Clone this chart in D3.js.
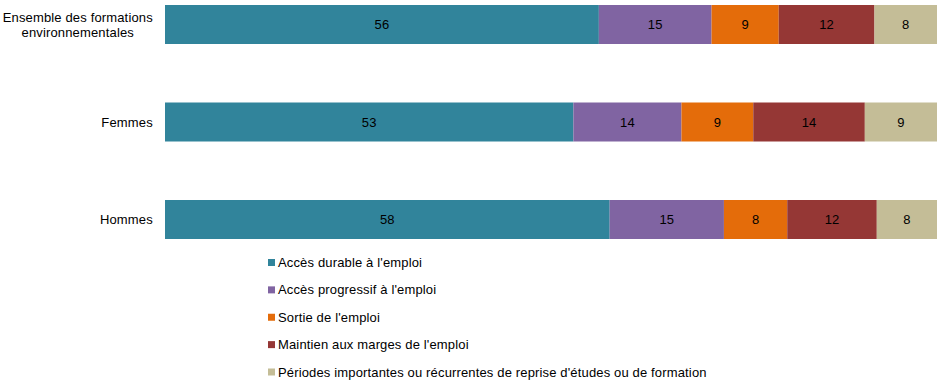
<!DOCTYPE html>
<html>
<head>
<meta charset="utf-8">
<script src="https://cdn.jsdelivr.net/npm/d3@7"></script>
<style>
  body { margin: 0; background: #fff; }
  svg text { font-family: Arial, "Liberation Sans", sans-serif; font-size: 13px; fill: #000; letter-spacing: 0.15px; }
</style>
</head>
<body>
<svg id="chart" width="941" height="382"></svg>
<script>
// categories (top to bottom) and series, values in %
const categories = [["Ensemble des formations", "environnementales"], ["Femmes"], ["Hommes"]];
const seriesNames = [
  "Accès durable à l'emploi",
  "Accès progressif à l'emploi",
  "Sortie de l'emploi",
  "Maintien aux marges de l'emploi",
  "Périodes importantes ou récurrentes de reprise d'études ou de formation"
];
const accesDurable    = [56.2, 52.9, 57.6];
const accesProgressif = [14.6, 14.0, 14.8];
const sortieEmploi    = [8.7, 9.3, 8.2];
const maintienMarges  = [12.4, 14.45, 11.6];
const periodesEtudes  = [8.1, 9.35, 7.8];
const colors = ["#31849B", "#8064A2", "#E46C0A", "#953735", "#C4BD97"];

const svg = d3.select("#chart");
const catKeys = categories.map(c => c.join(" "));
const seriesVals = [accesDurable, accesProgressif, sortieEmploi, maintienMarges, periodesEtudes];

const rows = catKeys.map((k, i) => {
  const r = { cat: k };
  seriesNames.forEach((s, j) => r[s] = seriesVals[j][i]);
  return r;
});
const stacked = d3.stack().keys(seriesNames)(rows);

const x = d3.scaleLinear().domain([0, 100]).range([165, 937]);
const y = d3.scaleBand().domain(catKeys).range([5, 239]).paddingInner(0.6).paddingOuter(0);
const fmt = v => String(Math.round(v));

const layers = svg.selectAll(".layer")
  .data(stacked)
  .enter().append("g")
  .attr("class", "layer")
  .attr("fill", (d, i) => colors[i]);

layers.selectAll("rect")
  .data(d => d)
  .enter().append("rect")
  .attr("x", d => x(d[0]))
  .attr("y", d => y(d.data.cat))
  .attr("width", d => x(d[1]) - x(d[0]))
  .attr("height", y.bandwidth());

layers.selectAll("text")
  .data((d, i) => d.map(p => ({ p, v: seriesVals[i][catKeys.indexOf(p.data.cat)] })))
  .enter().append("text")
  .attr("x", d => (x(d.p[0]) + x(d.p[1])) / 2)
  .attr("y", d => y(d.p.data.cat) + y.bandwidth() / 2)
  .attr("dy", "0.35em")
  .attr("text-anchor", "middle")
  .text(d => fmt(d.v));

// category labels, right edge at 153, multi-line ones centered on their block
categories.forEach((lines, i) => {
  const cy = y(catKeys[i]) + y.bandwidth() / 2;
  const t = svg.append("text").attr("text-anchor", "middle");
  lines.forEach((ln, j) => {
    t.append("tspan")
      .attr("x", 0)
      .attr("y", cy + (j - (lines.length - 1) / 2) * 15)
      .attr("dy", "0.35em")
      .text(ln);
  });
  const w = t.node().getBBox().width;
  t.attr("transform", `translate(${153 - w / 2},0)`);
});

// legend
const legY = d3.scalePoint().domain(seriesNames).range([262.5, 372]);
const leg = svg.selectAll(".leg")
  .data(seriesNames)
  .enter().append("g")
  .attr("class", "leg")
  .attr("transform", d => `translate(268,${legY(d)})`);
leg.append("rect")
  .attr("x", 0).attr("y", -3.5)
  .attr("width", 7).attr("height", 7)
  .attr("fill", (d, i) => colors[i]);
leg.append("text")
  .attr("x", 10)
  .attr("dy", "0.35em")
  .text(d => d);
</script>
</body>
</html>
